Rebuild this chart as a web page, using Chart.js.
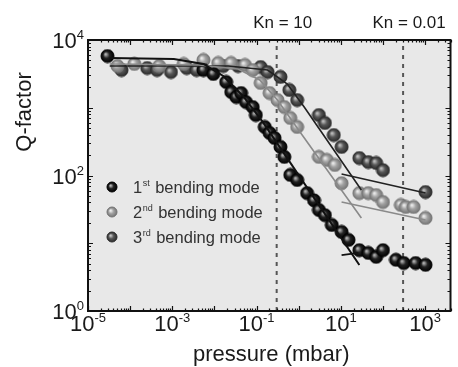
<!DOCTYPE html>
<html>
<head>
<meta charset="utf-8">
<script src="https://cdn.jsdelivr.net/npm/chart.js@4.4.1/dist/chart.umd.min.js"></script>
<style>
  html, body { margin: 0; padding: 0; background: #fff; }
  #wrap { width: 458px; height: 367px; }
</style>
</head>
<body>
<div id="wrap"><canvas id="c" width="458" height="367"></canvas></div>
<script>
// pressure (mbar) and Q-factor
const mode1P = [2.9e-5, 5.5e-3, 9.4e-3, 0.019, 0.025, 0.033, 0.043, 0.056, 0.081, 0.096, 0.156, 0.204, 0.267, 0.369, 0.457, 0.632, 0.92, 1.58, 2.31, 3.02, 4.18, 6.1, 10.4, 15.2, 27.5, 44.8, 68.9, 100, 203, 312, 596, 1021];
const mode1Q = [5800, 3600, 3150, 2400, 1710, 1440, 1650, 1215, 1025, 780, 520, 424, 358, 264, 188, 102, 86, 55, 43, 31, 26, 18.6, 14.7, 11.2, 7.9, 7.2, 6.3, 7.9, 5.7, 5.1, 5.1, 4.8];

const mode2P = [5.0e-5, 1.26e-4, 4.9e-4, 1.87e-3, 5.5e-3, 0.0123, 0.0249, 0.053, 0.081, 0.125, 0.204, 0.313, 0.457, 0.632, 0.92, 3.02, 4.65, 7.2, 10.4, 27.5, 44.8, 68.9, 100, 265, 348, 535, 1021];
const mode2Q = [4130, 4430, 4130, 4430, 5070, 4580, 4580, 4280, 3600, 2320, 1650, 1300, 1025, 706, 520, 188, 170, 143, 77, 55, 55, 51.5, 40.6, 36.7, 34.3, 34.3, 23.6];

const mode3P = [6.25e-5, 2.54e-4, 4.35e-4, 9.3e-4, 2.2e-3, 3.77e-3, 0.0162, 0.0363, 0.125, 0.183, 0.369, 0.60, 0.92, 3.02, 4.18, 6.8, 10.4, 27.5, 44.8, 68.9, 100, 1021];
const mode3Q = [3600, 3860, 3600, 3370, 3860, 3600, 4130, 4130, 3990, 3370, 2850, 1830, 1300, 780, 596, 396, 264, 181, 158, 153, 120, 57];

// fitted curves
const fit1P = [3.27e-5, 1.09e-3, 5.5e-3, 0.0162, 0.0475, 0.140, 27.5];
const fit1Q = [5420, 5240, 4430, 2940, 1490, 617, 4.78];
const fit1bP = [10.4, 26.1];
const fit1bQ = [6.7, 7.2];

const fit2P = [3.27e-5, 4.2e-3, 0.0363, 0.119, 0.313, 0.92, 30.7];
const fit2Q = [4430, 4280, 3730, 2570, 1300, 502, 23.6];
const fit2bP = [10.4, 1021];
const fit2bQ = [40.6, 22];

const fit3P = [3.27e-5, 0.0212, 0.183, 0.538, 1.35, 30.7];
const fit3Q = [4130, 4130, 3600, 2240, 1025, 61];
const fit3bP = [10.4, 1021];
const fit3bQ = [105, 55];

// Knudsen number markers
const knP = [0.3, 300];
const knLabels = ['Kn = 10', 'Kn = 0.01'];

// axis decades
const xDecades = [-5, -4, -3, -2, -1, 0, 1, 2, 3];
const xLabelExps = [-5, -3, -1, 1, 3];
const yDecades = [0, 1, 2, 3, 4];
const yLabelExps = [0, 2, 4];

const legendNums = ['1', '2', '3'];
const legendSups = ['st', 'nd', 'rd'];
const legendText = 'bending mode';

const FONT = "'Liberation Sans', Arial, Helvetica, sans-serif";

const toXY = (ps, qs) => ps.map((p, i) => ({ x: p, y: qs[i] }));

function ball(r, light, base, edge) {
    const c = document.createElement('canvas');
    const s = Math.ceil(2 * r + 2);
    c.width = s; c.height = s;
    const g = c.getContext('2d');
    const m = s / 2;
    const grad = g.createRadialGradient(m - r * 0.3, m - r * 0.3, 0.5, m, m, r);
    grad.addColorStop(0, light);
    grad.addColorStop(0.45, base);
    grad.addColorStop(1, edge);
    g.fillStyle = grad;
    g.beginPath(); g.arc(m, m, r, 0, Math.PI * 2); g.fill();
    g.lineWidth = 1; g.strokeStyle = edge; g.stroke();
    return c;
}

const balls = [
    ball(6.5, '#b8b8b8', '#222', '#000'),
    ball(6.5, '#eeeeee', '#a2a2a2', '#747474'),
    ball(6.5, '#c4c4c4', '#575757', '#2a2a2a')
];
const smallBalls = [
    ball(5, '#b8b8b8', '#222', '#000'),
    ball(5, '#eeeeee', '#a2a2a2', '#747474'),
    ball(5, '#c4c4c4', '#575757', '#2a2a2a')
];

function fitLine(ps, qs, color, width) {
    return { data: toXY(ps, qs), showLine: true, borderColor: color, borderWidth: width, pointRadius: 0, fill: false, order: 0 };
}

function drawPow(ctx, exp, x, y, align) {
    ctx.font = '22px ' + FONT;
    const w1 = ctx.measureText('10').width;
    ctx.font = '13px ' + FONT;
    const w2 = ctx.measureText(String(exp)).width;
    let x0 = align === 'right' ? x - w1 - w2 : x - (w1 + w2) / 2;
    ctx.textAlign = 'left';
    ctx.textBaseline = 'alphabetic';
    ctx.font = '22px ' + FONT;
    ctx.fillText('10', x0, y);
    ctx.font = '13px ' + FONT;
    ctx.fillText(String(exp), x0 + w1, y - 9);
}

const framePlugin = {
    id: 'frame',
    beforeDraw(chart) {
        const { ctx, chartArea: a } = chart;
        ctx.save();
        ctx.fillStyle = '#fff';
        ctx.fillRect(0, 0, chart.width, chart.height);
        ctx.fillStyle = '#e8e8e8';
        ctx.fillRect(a.left, a.top, a.right - a.left, a.bottom - a.top);
        ctx.restore();
    },
    afterDraw(chart) {
        const { ctx, chartArea: a } = chart;
        const xs = chart.scales.x, ys = chart.scales.y;
        ctx.save();
        ctx.fillStyle = '#1a1a1a';
        ctx.strokeStyle = '#111';

        // inward ticks on all sides
        ctx.lineWidth = 1.2;
        ctx.beginPath();
        xDecades.forEach(e => {
            for (let m = 1; m < 10; m++) {
                const v = m * Math.pow(10, e);
                if (v > xs.max) break;
                const px = Math.round(xs.getPixelForValue(v)) + 0.5;
                const len = m === 1 ? 5 : 2.5;
                ctx.moveTo(px, a.bottom); ctx.lineTo(px, a.bottom - len);
                ctx.moveTo(px, a.top); ctx.lineTo(px, a.top + len);
            }
        });
        yDecades.forEach(e => {
            for (let m = 1; m < 10; m++) {
                const v = m * Math.pow(10, e);
                if (v > ys.max) break;
                const py = Math.round(ys.getPixelForValue(v)) + 0.5;
                const len = m === 1 ? 5 : 3;
                ctx.moveTo(a.left, py); ctx.lineTo(a.left + len, py);
                ctx.moveTo(a.right, py); ctx.lineTo(a.right - len, py);
            }
        });
        ctx.stroke();

        // frame
        ctx.lineWidth = 2;
        ctx.strokeRect(a.left, a.top, a.right - a.left, a.bottom - a.top);

        // tick labels
        xLabelExps.forEach(e => drawPow(ctx, e, xs.getPixelForValue(Math.pow(10, e)), a.bottom + 20, 'center'));
        yLabelExps.forEach(e => drawPow(ctx, e, a.left - 4, ys.getPixelForValue(Math.pow(10, e)) + 8, 'right'));

        // axis titles
        ctx.font = '22px ' + FONT;
        ctx.textAlign = 'center';
        ctx.textBaseline = 'middle';
        ctx.fillText('pressure (mbar)', (a.left + a.right) / 2 + 2, 355);
        ctx.save();
        ctx.translate(25, 112);
        ctx.rotate(-Math.PI / 2);
        ctx.fillText('Q-factor', 0, 0);
        ctx.restore();

        // Knudsen labels
        ctx.font = '17px ' + FONT;
        ctx.textBaseline = 'alphabetic';
        knP.forEach((p, i) => {
            ctx.fillText(knLabels[i], xs.getPixelForValue(p) + 6, 28);
        });

        // legend
        ctx.textAlign = 'left';
        legendNums.forEach((n, i) => {
            const yy = 187 + i * 25;
            const b = smallBalls[i];
            ctx.drawImage(b, 112 - b.width / 2, yy - b.height / 2);
            ctx.fillStyle = '#333';
            ctx.font = '16.5px ' + FONT;
            ctx.fillText(n, 133, yy + 6);
            const w1 = ctx.measureText(n).width;
            ctx.font = '9px ' + FONT;
            ctx.fillText(legendSups[i], 133 + w1 + 0.5, yy - 1);
            const w2 = ctx.measureText(legendSups[i]).width;
            ctx.font = '16.5px ' + FONT;
            ctx.fillText(legendText, 133 + w1 + w2 + 6, yy + 6);
        });
        ctx.restore();
    }
};

new Chart(document.getElementById('c'), {
    type: 'scatter',
    data: {
        datasets: [
            fitLine(fit1P, fit1Q, '#111', 2),
            fitLine(fit1bP, fit1bQ, '#111', 1.8),
            fitLine(fit2P, fit2Q, '#8a8a8a', 1.6),
            fitLine(fit2bP, fit2bQ, '#8a8a8a', 1.6),
            fitLine(fit3P, fit3Q, '#222', 1.6),
            fitLine(fit3bP, fit3bQ, '#222', 1.6),
            { data: toXY(mode1P, mode1Q), pointStyle: balls[0], pointRadius: 6.5, order: 1 },
            { data: toXY(mode2P, mode2Q), pointStyle: balls[1], pointRadius: 6.5, order: 2 },
            { data: toXY(mode3P, mode3Q), pointStyle: balls[2], pointRadius: 6.5, order: 3 },
            { data: [{ x: knP[0], y: 1 }, { x: knP[0], y: 1e4 }], showLine: true, borderColor: '#555', borderWidth: 2, borderDash: [4, 5], pointRadius: 0, order: 4 },
            { data: [{ x: knP[1], y: 1 }, { x: knP[1], y: 1e4 }], showLine: true, borderColor: '#555', borderWidth: 2, borderDash: [4, 5], pointRadius: 0, order: 4 }
        ]
    },
    options: {
        responsive: false,
        animation: false,
        layout: { padding: { left: 88, right: 3, top: 40, bottom: 56 } },
        plugins: { legend: { display: false }, tooltip: { enabled: false } },
        scales: {
            x: { type: 'logarithmic', min: 1e-5, max: 4000, display: false },
            y: { type: 'logarithmic', min: 1, max: 1e4, display: false }
        }
    },
    plugins: [framePlugin]
});
</script>
</body>
</html>
